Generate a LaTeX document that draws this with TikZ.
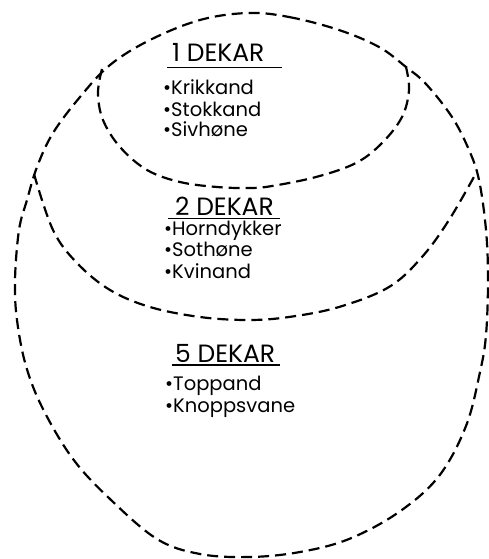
\documentclass[tikz,border=0pt]{standalone}
\usepackage{fontspec}
\setmainfont{Poppins}
\begin{document}
\begin{tikzpicture}[x=1pt,y=-1pt,
  zone/.style={draw=black,line width=2.2pt,dash pattern=on 11pt off 6pt,line cap=butt},
  head/.style={inner sep=0pt,anchor=base west,font=\fontsize{25}{25}\selectfont},
  item/.style={inner sep=0pt,anchor=base west,font=\fontsize{19.5}{19.5}\selectfont},
  uline/.style={draw=black,line width=1.3pt}]
\useasboundingbox[fill=white] (0,0) rectangle (489,559);
% outer zone (5 dekar)
\draw[zone] plot[smooth cycle,tension=0.6] coordinates {
 (248,13) (289,17) (339,30) (379,47) (406,67) (426,84) (452,117) (469,150)
 (479,180) (486,230) (488,280) (486,335) (480,372) (466,426) (439,476)
 (399,512) (349,539) (300,552) (250,557) (200,554) (157,539) (110,499)
 (73,459) (43,409) (26,366) (17,320) (15,280) (19,230) (27,200) (37,167)
 (53,133) (80,97) (110,65) (150,40) (200,20)};
% middle zone (2 dekar)
\draw[zone] plot[smooth,tension=0.6] coordinates {
 (34,174) (53,230) (77,263) (110,290) (150,307) (200,317) (248,320)
 (289,317) (339,307) (389,287) (422,257) (449,220) (475,175)};
% inner zone (1 dekar)
\draw[zone] plot[smooth,tension=0.6] coordinates {
 (102,69) (98,93) (103,120) (120,147) (147,170) (180,182) (217,187)
 (250,188) (272,186) (316,177) (356,163) (382,143) (402,117) (409,90) (406,67)};
% labels
\node[head] (h1) at (172,62) {1 DEKAR};
\draw[uline] (167,67.5) -- (282,67.5);
\node[item] (a1) at (163,95) {•Krikkand};
\node[item] (a2) at (163,117) {•Stokkand};
\node[item] (a3) at (163,136) {•Sivhøne};
\node[head] (h2) at (175,215) {2 DEKAR};
\draw[uline] (168,218.5) -- (280,218.5);
\node[item] (b1) at (164,235) {•Horndykker};
\node[item] (b2) at (164,256) {•Sothøne};
\node[item] (b3) at (164,278) {•Kvinand};
\node[head] (h3) at (175,362) {5 DEKAR};
\draw[uline] (172,365) -- (280,365);
\node[item] (c1) at (165,390) {•Toppand};
\node[item] (c2) at (165,412) {•Knoppsvane};
\end{tikzpicture}
\end{document}
